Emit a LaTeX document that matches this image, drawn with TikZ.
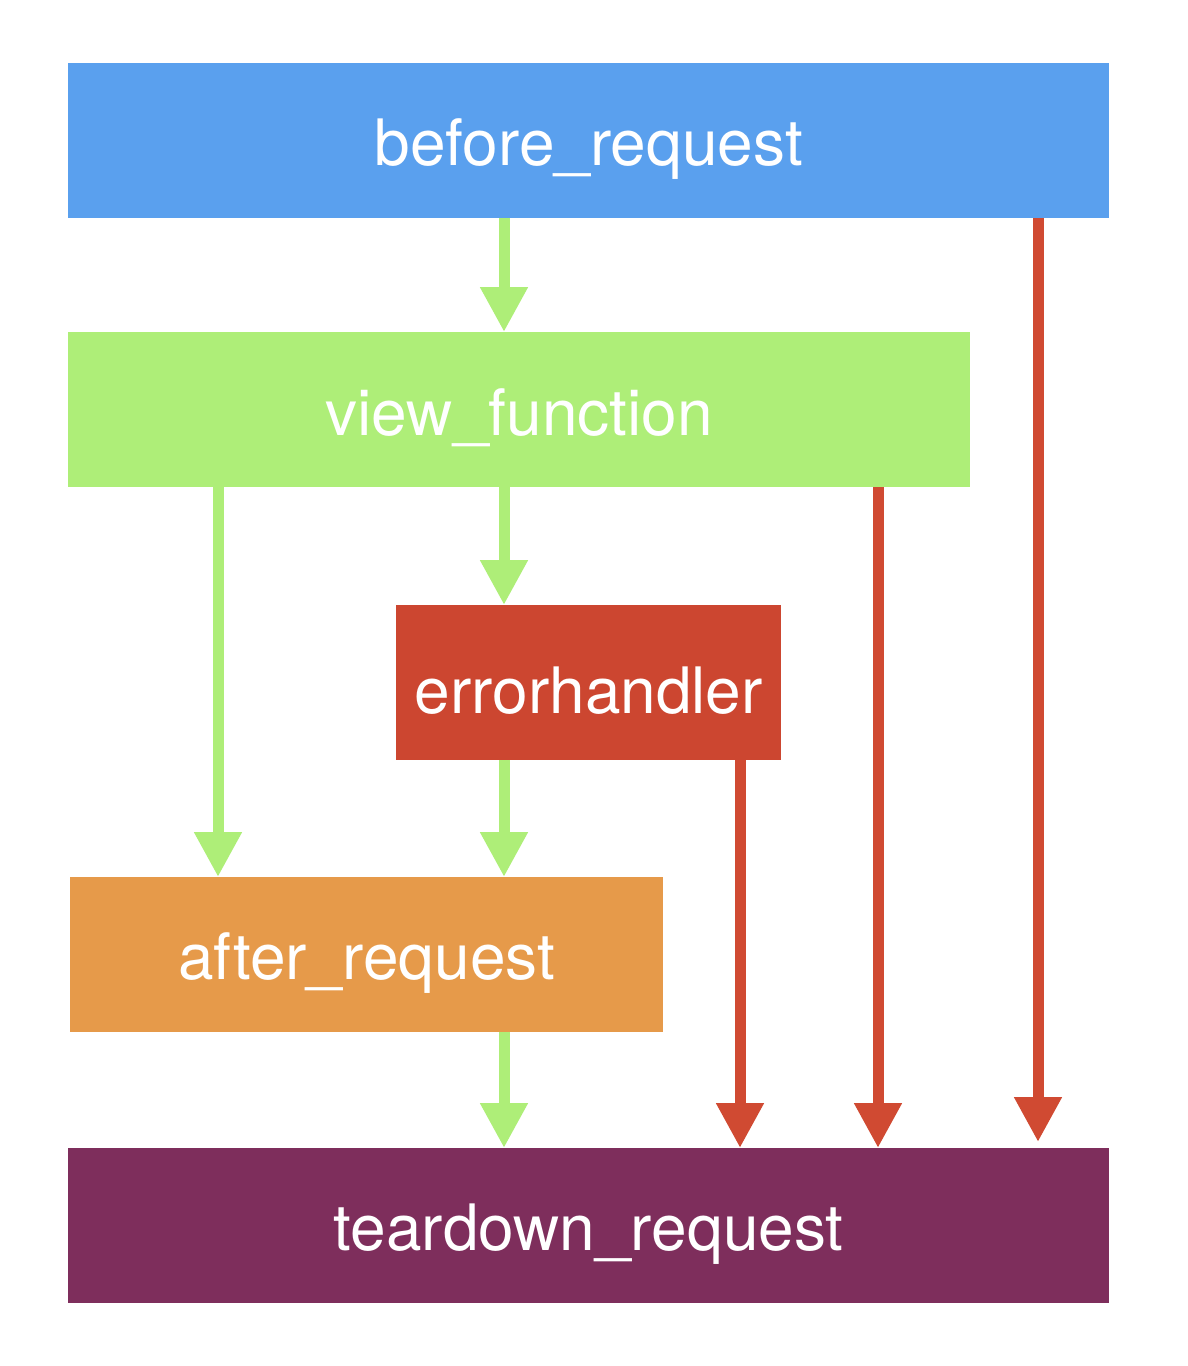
\documentclass[tikz,border=0pt]{standalone}
\usepackage{fontspec}
\setmainfont{TeX Gyre Heros}
\usetikzlibrary{arrows.meta}
\definecolor{cblue}{HTML}{5AA0EE}
\definecolor{cgreen}{HTML}{AEEE78}
\definecolor{cred}{HTML}{CC4630}
\definecolor{corange}{HTML}{E69A4A}
\definecolor{cpurple}{HTML}{7E2E5C}
\definecolor{carrowred}{HTML}{D04A32}
\tikzset{
  box/.style={anchor=north west, inner sep=0pt, minimum height=155pt},
  lbl/.style={text=white, inner sep=0pt, yshift=-8pt, font=\fontsize{64}{70}\selectfont},
  garrow/.style={draw=cgreen, line width=11pt, -{Triangle[width=45pt,length=45pt]}},
  rarrow/.style={draw=carrowred, line width=11pt, -{Triangle[width=45pt,length=45pt]}},
}
\begin{document}
\begin{tikzpicture}[x=1pt,y=-1pt]
\useasboundingbox[fill=white] (0,0) rectangle (1188,1366);
\node[box, fill=cblue, minimum width=1041pt] (before) at (68,63) {};
\node[lbl] (beforet) at (before.center) {before\_request};
\node[box, fill=cgreen, minimum width=902pt] (view) at (68,332) {};
\node[lbl] (viewt) at (view.center) {view\_function};
\node[box, fill=cred, minimum width=385pt] (err) at (396,605) {};
\node[lbl] (errt) at (err.center) {errorhandler};
\node[box, fill=corange, minimum width=593pt] (after) at (70,877) {};
\node[lbl] (aftert) at (after.center) {after\_request};
\node[box, fill=cpurple, minimum width=1041pt] (tear) at (68,1148) {};
\node[lbl] (teart) at (tear.center) {teardown\_request};
\coordinate (cA) at (218,0);
\coordinate (cB) at (504,0);
\coordinate (cC) at (740,0);
\coordinate (cD) at (878,0);
\coordinate (cE) at (1038,0);
\draw[garrow] (before.south -| cB) -- (view.north -| cB);
\draw[garrow] (view.south -| cA) -- (after.north -| cA);
\draw[garrow] (view.south -| cB) -- (err.north -| cB);
\draw[garrow] (err.south -| cB) -- (after.north -| cB);
\draw[garrow] (after.south -| cB) -- (tear.north -| cB);
\draw[rarrow] (err.south -| cC) -- (tear.north -| cC);
\draw[rarrow] (view.south -| cD) -- (tear.north -| cD);
\draw[rarrow, shorten >=6pt] (before.south -| cE) -- (tear.north -| cE);
\end{tikzpicture}
\end{document}
